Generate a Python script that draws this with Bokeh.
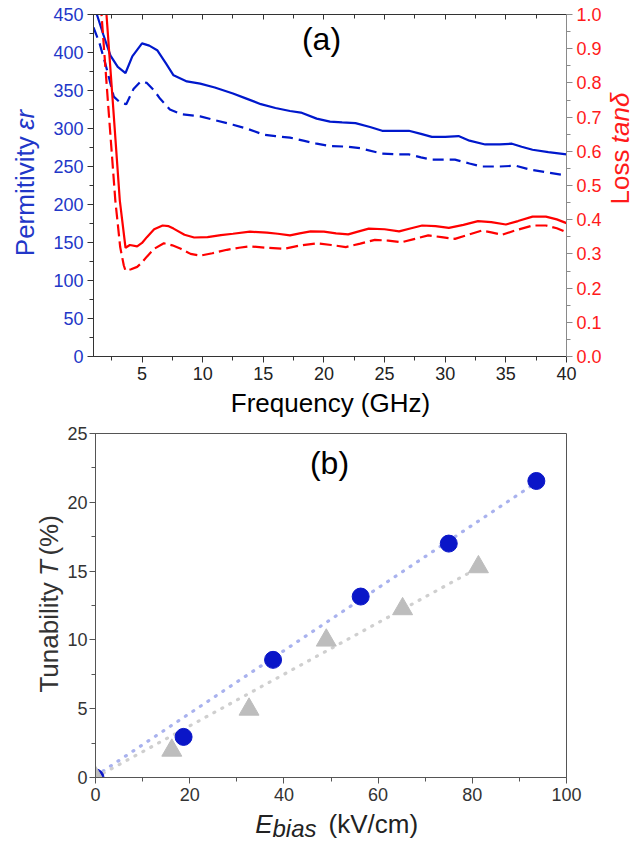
from math import pi
from bokeh.plotting import figure
from bokeh.layouts import column, row
from bokeh.models import Range1d, LinearAxis, SingleIntervalTicker, Label, PrintfTickFormatter
from bokeh.embed import file_html
from bokeh.resources import INLINE

# ---------------- data: panel (a) ----------------
freq_eps_solid = [1.0, 1.3, 1.8, 2.4, 3.0, 3.64, 4.2, 5.0, 5.6, 6.25, 7.0, 7.6, 8.7, 9.8,
                  11.0, 12.5, 13.5, 14.8, 16.0, 17.2, 18.1, 19.4, 20.5, 21.5, 22.6, 23.8,
                  24.8, 26.0, 27.0, 28.0, 28.9, 30.0, 31.1, 32.0, 33.3, 34.5, 35.5, 36.3,
                  37.2, 38.5, 40.0]
eps_solid = [462, 449, 424, 396, 381, 373, 395, 412, 409, 403, 385, 370, 362, 359,
             354, 346, 340, 332, 327, 323, 321, 313, 309, 308, 307, 302,
             297, 297, 297, 293, 289, 289, 290, 284, 279, 279, 280, 276,
             272, 269, 266]

freq_eps_dash = [1.0, 1.5, 2.0, 2.67, 3.2, 3.7, 4.3, 4.9, 5.4, 6.0, 6.5, 7.3, 8.2, 9.8,
                 11.0, 12.5, 13.8, 15.0, 16.0, 17.2, 18.3, 19.4, 20.5, 22.0, 23.0, 24.8,
                 26.0, 27.0, 28.0, 28.9, 30.8, 32.0, 33.0, 34.5, 35.8, 37.0, 38.5, 40.0]
eps_dash = [433, 412, 384, 342, 334, 332, 352, 362, 360, 350, 339, 325, 319, 316,
            311, 305, 299, 292, 290, 288, 284, 280, 277, 276, 274, 267,
            266, 266, 262, 259, 259, 254, 250, 250, 251, 246, 242, 238]

freq_tan_solid = [1.9, 2.07, 2.6, 3.17, 3.64, 4.0, 4.6, 5.0, 5.4, 6.0, 6.7, 7.2, 7.6, 8.5,
                  9.3, 10.4, 11.5, 12.5, 13.9, 15.3, 16.2, 17.2, 18.0, 18.9, 20.0, 21.0,
                  22.0, 22.8, 23.7, 25.0, 26.2, 27.2, 28.1, 29.2, 30.3, 31.5, 32.7, 33.8,
                  35.0, 36.0, 37.2, 38.3, 39.2, 40.0]
tan_solid = [1.08, 1.0, 0.74, 0.456, 0.318, 0.326, 0.322, 0.332, 0.349, 0.372, 0.383, 0.381,
             0.374, 0.356, 0.348, 0.349, 0.355, 0.359, 0.365, 0.362, 0.359, 0.354, 0.360,
             0.366, 0.365, 0.360, 0.357, 0.365, 0.374, 0.372, 0.366, 0.375, 0.383, 0.381,
             0.376, 0.385, 0.396, 0.393, 0.386, 0.396, 0.409, 0.409, 0.401, 0.390]

freq_tan_dash = [1.5, 1.66, 2.2, 2.8, 3.2, 3.5, 3.64, 4.1, 4.6, 5.0, 5.4, 6.0, 6.8, 7.5,
                 8.2, 9.0, 9.8, 10.8, 12.0, 13.0, 13.9, 15.3, 16.7, 18.1, 19.4, 20.6,
                 21.8, 23.0, 24.2, 25.3, 26.4, 27.5, 28.6, 29.7, 30.8, 31.9, 33.0, 33.8,
                 34.7, 35.9, 37.2, 38.3, 39.2, 40.0]
tan_dash = [1.08, 1.0, 0.74, 0.456, 0.32, 0.266, 0.251, 0.255, 0.262, 0.275, 0.292, 0.315,
            0.331, 0.325, 0.315, 0.300, 0.295, 0.302, 0.312, 0.318, 0.322, 0.318, 0.315,
            0.325, 0.331, 0.326, 0.320, 0.330, 0.341, 0.339, 0.334, 0.344, 0.354, 0.349,
            0.344, 0.356, 0.368, 0.363, 0.356, 0.370, 0.383, 0.383, 0.375, 0.363]

# ---------------- data: panel (b) ----------------
ebias_circ = [0, 18.7, 37.7, 56.3, 75.0, 93.6]
tun_circ = [0.0, 2.95, 8.55, 13.15, 17.0, 21.55]
ebias_tri = [0, 16.2, 32.6, 49.0, 65.2, 81.3]
tun_tri = [0.0, 1.97, 4.95, 9.97, 12.25, 15.3]
fit_circ_x = [0, 93.0]
fit_circ_y = [0.1, 21.3]
fit_tri_x = [0, 80.0]
fit_tri_y = [0.0, 15.0]

FONT = "Liberation Sans"
BLUE = "#0018CC"
BLUE_TXT = "#2237C8"
RED = "#FF0000"
RED_TXT = "#FF1A1A"
D = 0.36   # baseline correction, fraction of the font size
TICK = "18px"

# page geometry (pixels) used only to place texts
A_L, A_R, A_T, A_B = 93, 566, 14, 356
B_L, B_R, B_T, B_B = 93, 566, 433, 777


def ax_(px):
    return 1 + (px - A_L) * 39.0 / (A_R - A_L)


def ay_(py):
    return (A_B - py) * 450.0 / (A_B - A_T)


def bx_(px):
    return (px - B_L) * 100.0 / (B_R - B_L)


def by_(py):
    return (B_B - py) * 25.0 / (B_B - B_T)


def style_axis(a, line_color, label_color, size=TICK, standoff=4):
    a.axis_line_color = line_color
    a.major_tick_line_color = line_color
    a.minor_tick_line_color = line_color
    a.major_tick_out = 6
    a.major_tick_in = 0
    a.minor_tick_out = 4
    a.minor_tick_in = 0
    a.major_label_text_font = FONT
    a.major_label_text_font_size = size
    a.major_label_text_color = label_color
    a.major_label_standoff = standoff
    a.axis_label = None


def lab(p, x, y, text, size=26, color="black", style="normal", angle=0.0, align="left"):
    p.add_layout(Label(x=x, y=y, text=text, angle=angle,
                       text_font=FONT, text_font_size=f"{size}px", text_color=color,
                       text_font_style=style, text_align=align,
                       text_baseline="alphabetic"))


def hlab(s, x, base_y_from_bottom, text, size=26, **kw):
    """horizontal text in a strip; baseline given in pixels above the strip bottom"""
    lab(s, x, base_y_from_bottom + D * size, text, size=size, **kw)


def vlab(s, base_x, y_from_bottom, text, size=26, **kw):
    """text reading bottom-to-top; baseline given as x pixel inside the strip"""
    lab(s, base_x - D * size, y_from_bottom, text, size=size, angle=pi / 2, **kw)


def strip(w, h):
    """A text-only canvas whose frame fills it; data units are pixels (y up)."""
    s = figure(width=w, height=h, x_range=Range1d(0, w), y_range=Range1d(0, h),
               x_axis_location=None, y_axis_location=None, min_border=0,
               output_backend="svg", toolbar_location=None)
    s.grid.visible = False
    s.outline_line_color = None
    return s


# ---------------- panel (a) ----------------
p1 = figure(width=558, height=388, x_range=Range1d(1, 40), y_range=Range1d(0, 450),
            output_backend="svg", toolbar_location=None,
            min_border_left=47, min_border_right=38, min_border_top=14, min_border_bottom=32)
p1.grid.visible = False
p1.outline_line_color = "#333333"
p1.extra_y_ranges = {"tan": Range1d(0, 1)}

p1.xaxis.ticker = SingleIntervalTicker(interval=5, num_minor_ticks=2)
p1.yaxis.ticker = SingleIntervalTicker(interval=50, num_minor_ticks=2)
style_axis(p1.xaxis[0], "#333333", "#222222")
style_axis(p1.yaxis[0], "#333333", BLUE_TXT)

top_ax = LinearAxis(ticker=SingleIntervalTicker(interval=5, num_minor_ticks=2))
style_axis(top_ax, "#333333", None, size="1px", standoff=0)
top_ax.major_tick_out = 0
top_ax.major_tick_in = 5
top_ax.minor_tick_out = 0
top_ax.minor_tick_in = 4
p1.add_layout(top_ax, "above")

right_ax = LinearAxis(y_range_name="tan",
                      ticker=SingleIntervalTicker(interval=0.1, num_minor_ticks=2),
                      formatter=PrintfTickFormatter(format="%.1f"))
style_axis(right_ax, "#8A8A8A", RED_TXT)
p1.add_layout(right_ax, "right")

p1.line(freq_eps_solid, eps_solid, line_color=BLUE, line_width=2.2)
p1.line(freq_eps_dash, eps_dash, line_color=BLUE, line_width=2.2, line_dash="11 6")
p1.line(freq_tan_solid, tan_solid, line_color=RED, line_width=2.2, y_range_name="tan")
p1.line(freq_tan_dash, tan_dash, line_color=RED, line_width=2.2, line_dash="12 5",
        y_range_name="tan")
lab(p1, ax_(321), ay_(50 - D * 32), "(a)", size=32, align="center")

# text strips around panel (a)
la = strip(46, 388)       # page x 0..46, y 0..388
vlab(la, 34, 388 - 138.2, "Permitivity", color=BLUE_TXT, align="right")
vlab(la, 34, 388 - 131, "\u03b5r", color=BLUE_TXT, style="italic")
ra = strip(31, 388)       # page x 604..635
vlab(ra, 629 - 604, 388 - 153.2, "Loss", color=RED_TXT, align="right")
vlab(ra, 629 - 604, 388 - 146, "tan\u03b4", color=RED_TXT, style="italic")
ba = strip(635, 32)       # page y 388..420
hlab(ba, 330, 420 - 412, "Frequency (GHz)", align="center")

# ---------------- panel (b) ----------------
p2 = figure(width=571, height=390, x_range=Range1d(0, 100), y_range=Range1d(0, 25),
            output_backend="svg", toolbar_location=None,
            min_border_left=29, min_border_right=69, min_border_top=13, min_border_bottom=33)
p2.grid.visible = False
p2.outline_line_color = "#555555"
p2.xaxis.ticker = SingleIntervalTicker(interval=20, num_minor_ticks=2)
p2.yaxis.ticker = SingleIntervalTicker(interval=5, num_minor_ticks=2)
style_axis(p2.xaxis[0], "#555555", "#333333")
style_axis(p2.yaxis[0], "#555555", "#333333", standoff=2)

p2.line(fit_circ_x, fit_circ_y, line_color="#A9B2EE", line_width=3.2, line_dash="1 8",
        line_cap="round")
p2.line(fit_tri_x, fit_tri_y, line_color="#CFCFCF", line_width=3.2, line_dash="1 8",
        line_cap="round")
p2.scatter(ebias_circ, tun_circ, marker="circle", size=17, fill_color="#0A16C8",
           line_color="#0A16C8")
p2.scatter(ebias_tri, tun_tri, marker="triangle", size=20, fill_color="#BDBDBD",
           line_color="#BDBDBD")
lab(p2, bx_(328), by_(474 - D * 32), "(b)", size=32, align="center")

lb = strip(64, 390)       # page x 0..64, y 420..810
vlab(lb, 58, 810 - 588.7, "Tunability", color="#333333", align="right")
vlab(lb, 58, 810 - 581.5, "T", color="#333333", style="italic")
vlab(lb, 58, 810 - 558.4, "(%)", color="#333333")
bb = strip(635, 36)       # page y 810..846
hlab(bb, 272, 846 - 833, "E", color="#222222", style="italic", align="right")
hlab(bb, 272, 846 - 837, "bias", size=24, color="#222222", style="italic")
hlab(bb, 328, 846 - 833, "(kV/cm)", color="#222222")

layout = column(
    row(la, p1, ra, spacing=0),
    ba,
    row(lb, p2, spacing=0),
    bb,
    spacing=0,
)
open("out.html", "w").write(file_html(layout, INLINE))
